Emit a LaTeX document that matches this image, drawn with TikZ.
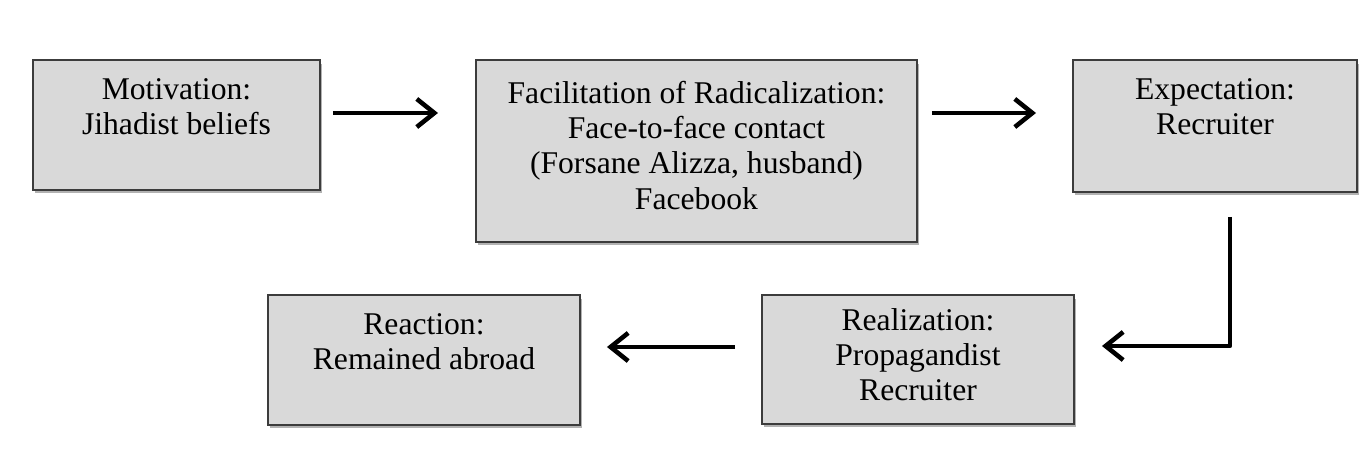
\documentclass[tikz,border=0pt]{standalone}
\usepackage{fontspec}
\setmainfont{Liberation Serif}
\usetikzlibrary{arrows.meta,calc,shadows}
\definecolor{boxgray}{HTML}{D9D9D9}
\definecolor{edgegray}{HTML}{3C3C3C}
\newcommand{\boxtext}[4]{\parbox[t][#2][t]{#1}{\centering\vspace*{#3}#4}}

\begin{document}
\begin{tikzpicture}[
    x=0.02cm, y=-0.02cm,
    stagebox/.style={draw=edgegray, line width=1.1pt, fill=boxgray,
        inner sep=0pt, outer sep=0pt, anchor=north west,
        drop shadow={shadow xshift=1pt, shadow yshift=-2pt, fill=black, opacity=0.3},
        font=\fontsize{18}{20}\selectfont},
    flow/.style={line width=2.6pt, line join=round,
        -{Straight Barb[length=10pt, width=16pt]}}
]
\useasboundingbox (0,0) rectangle (1361,475);
% top row
\node[stagebox] (motiv) at (33,60)
    {\boxtext{5.74cm}{2.6cm}{10.4pt}{Motivation:\\Jihadist beliefs}};
\node[stagebox] (facil) at (476,60)
    {\boxtext{8.82cm}{3.64cm}{12.2pt}{Facilitation of Radicalization:\\Face-to-face contact\\(Forsane Alizza, husband)\\Facebook}};
\node[stagebox] (expect) at (1073,60)
    {\boxtext{5.68cm}{2.64cm}{10.4pt}{Expectation:\\Recruiter}};
% bottom row
\node[stagebox] (react) at (268,295)
    {\boxtext{6.24cm}{2.6cm}{10.4pt}{Reaction:\\Remained abroad}};
\node[stagebox] (realiz) at (762,295)
    {\boxtext{6.24cm}{2.58cm}{7.6pt}{Realization:\\Propagandist\\Recruiter}};
% arrows
\draw[flow] ($(motiv.north east)+(13,53)$) -- ($(facil.north west)+(-38,53)$);
\draw[flow] ($(facil.north east)+(15,53)$) -- ($(expect.north west)+(-37,53)$);
\draw[flow] ($(expect.south)+(15,25)$) |- ($(realiz.north east)+(28,51)$);
\draw[flow] ($(realiz.north west)+(-27,52)$) -- ($(react.north east)+(27,52)$);
\end{tikzpicture}
\end{document}
